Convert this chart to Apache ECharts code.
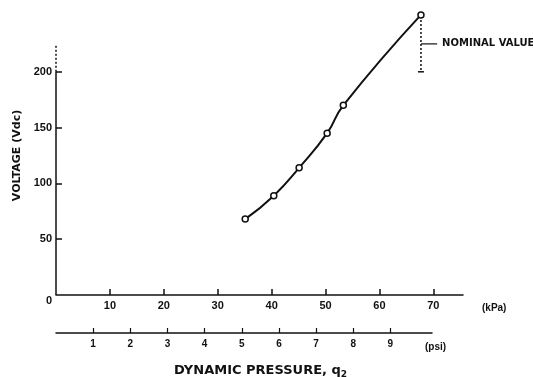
<!DOCTYPE html>
<html>
<head>
<meta charset="utf-8">
<script src="https://cdn.jsdelivr.net/npm/echarts@6/dist/echarts.min.js"></script>
<style>
  html, body { margin: 0; padding: 0; background: #fff; }
  #chart { width: 533px; height: 377px; }
</style>
</head>
<body>
<div id="chart"></div>
<script>
// Measured sensor output against dynamic pressure
const pressureKPa = [35.1, 40.4, 45.1, 50.3, 53.3, 67.7];
const voltageVdc = [68, 89, 114, 145, 170, 251];

// Nominal output band at the top test point
const nominalPressure = 67.7;
const nominalHigh = 250;
const nominalLow = 200;
const nominalMid = 225;
const nominalLeaderEnd = 70.7;

// Axis ranges and tick labels
const kPaTicks = [10, 20, 30, 40, 50, 60, 70];
const psiTicks = [1, 2, 3, 4, 5, 6, 7, 8, 9];
const voltTicks = [0, 50, 100, 150, 200];
const kPaMax = 75.5;
const psiMax = 10.12;
const voltMax = 250;
const voltAxisSolidTop = 200;
const voltAxisTop = 225;

const ink = '#111';
const labelFont = 'Liberation Sans, Arial, sans-serif';
const wideFont = 'DejaVu Sans, sans-serif';

const chart = echarts.init(document.getElementById('chart'), null, { renderer: 'canvas' });

chart.setOption({
  backgroundColor: '#fff',
  animation: false,
  title: {
    text: 'DYNAMIC PRESSURE, q{s|2}',
    left: 169,
    top: 358,
    textStyle: {
      color: ink,
      fontSize: 13,
      fontWeight: 'bold',
      fontFamily: wideFont,
      rich: {
        s: { fontSize: 9, fontWeight: 'bold', fontFamily: wideFont, color: ink, verticalAlign: 'bottom', padding: [7, 0, 0, 0] }
      }
    }
  },
  grid: [
    { left: 56, top: 16, width: 407, height: 279 },
    { left: 56, top: 332, width: 376, height: 1 }
  ],
  xAxis: [
    {
      gridIndex: 0,
      type: 'value',
      min: 0,
      max: kPaMax,
      name: '(kPa)',
      nameLocation: 'end',
      nameGap: 19,
      nameTextStyle: { color: ink, fontSize: 10, fontWeight: 'bold', fontFamily: labelFont, verticalAlign: 'top', padding: [8, 0, 0, 0] },
      splitLine: { show: false },
      axisLine: { show: true, lineStyle: { color: ink, width: 1.5 } },
      axisTick: { show: true, inside: true, length: 6, customValues: kPaTicks, lineStyle: { color: ink, width: 1.5 } },
      axisLabel: { show: true, customValues: kPaTicks, color: ink, fontSize: 11, fontWeight: 'bold', fontFamily: labelFont, margin: 5 }
    },
    {
      gridIndex: 1,
      type: 'value',
      position: 'bottom',
      min: 0,
      max: psiMax,
      name: '(psi)',
      nameLocation: 'end',
      nameGap: -7,
      nameTextStyle: { color: ink, fontSize: 10, fontWeight: 'bold', fontFamily: labelFont, verticalAlign: 'top', padding: [9, 0, 0, 0] },
      splitLine: { show: false },
      axisLine: { show: true, lineStyle: { color: ink, width: 1.5 } },
      axisTick: { show: true, inside: true, length: 5, customValues: psiTicks, lineStyle: { color: ink, width: 1.2 } },
      axisLabel: { show: true, customValues: psiTicks, color: ink, fontSize: 10, fontWeight: 'bold', fontFamily: labelFont, margin: 6 }
    }
  ],
  yAxis: [
    {
      gridIndex: 0,
      type: 'value',
      min: 0,
      max: voltMax,
      name: 'VOLTAGE (Vdc)',
      nameLocation: 'middle',
      nameGap: 32,
      nameRotate: 90,
      nameTextStyle: { color: ink, fontSize: 11, fontWeight: 'bold', fontFamily: wideFont },
      splitLine: { show: false },
      axisLine: { show: false },
      axisTick: { show: true, inside: true, length: 6, customValues: voltTicks.filter(v => v > 0), lineStyle: { color: ink, width: 1.5 } },
      axisLabel: {
        show: true,
        customValues: voltTicks,
        color: ink,
        fontSize: 11,
        fontWeight: 'bold',
        fontFamily: labelFont,
        margin: 4,
        formatter: v => (v === 0 ? '{z|0}' : String(v)),
        rich: { z: { fontSize: 11, fontWeight: 'bold', fontFamily: labelFont, color: ink, padding: [12, 0, 0, 0] } }
      }
    },
    { gridIndex: 1, type: 'value', show: false, min: 0, max: 1 }
  ],
  series: [
    // vertical voltage axis: solid up to 200, dashed extension above
    {
      type: 'line',
      xAxisIndex: 0, yAxisIndex: 0,
      data: [[0, 0], [0, voltAxisSolidTop]],
      symbol: 'none',
      lineStyle: { color: ink, width: 1.5 },
      silent: true,
      z: 1
    },
    {
      type: 'line',
      xAxisIndex: 0, yAxisIndex: 0,
      data: [[0, voltAxisSolidTop], [0, voltAxisTop]],
      symbol: 'none',
      lineStyle: { color: ink, width: 1.5, type: [2, 2] },
      silent: true,
      z: 1
    },
    // nominal value band
    {
      type: 'line',
      xAxisIndex: 0, yAxisIndex: 0,
      data: [
        { value: [nominalPressure, nominalHigh], symbol: 'none' },
        { value: [nominalPressure, nominalLow], symbol: 'rect', symbolSize: [6, 1.5] }
      ],
      showAllSymbol: true,
      clip: false,
      itemStyle: { color: ink },
      lineStyle: { color: ink, width: 1.5, type: [2, 2] },
      silent: true,
      z: 2
    },
    {
      type: 'line',
      xAxisIndex: 0, yAxisIndex: 0,
      data: [
        { value: [nominalPressure, nominalMid], symbol: 'none' },
        {
          value: [nominalLeaderEnd, nominalMid],
          symbol: 'circle',
          symbolSize: 0,
          label: {
            show: true,
            position: 'right',
            distance: 5,
            formatter: 'NOMINAL VALUE',
            color: ink,
            fontSize: 10,
            fontWeight: 'bold',
            fontFamily: wideFont
          }
        }
      ],
      showAllSymbol: true,
      clip: false,
      itemStyle: { color: ink },
      lineStyle: { color: ink, width: 1.2 },
      silent: true,
      z: 2
    },
    // measured curve
    {
      type: 'line',
      xAxisIndex: 0, yAxisIndex: 0,
      data: pressureKPa.map((p, i) => [p, voltageVdc[i]]),
      smooth: 0.5,
      symbol: 'circle',
      symbolSize: 6,
      showAllSymbol: true,
      clip: false,
      itemStyle: { color: '#fff', borderColor: ink, borderWidth: 1.5 },
      lineStyle: { color: ink, width: 2 },
      z: 3
    }
  ]
});
</script>
</body>
</html>
